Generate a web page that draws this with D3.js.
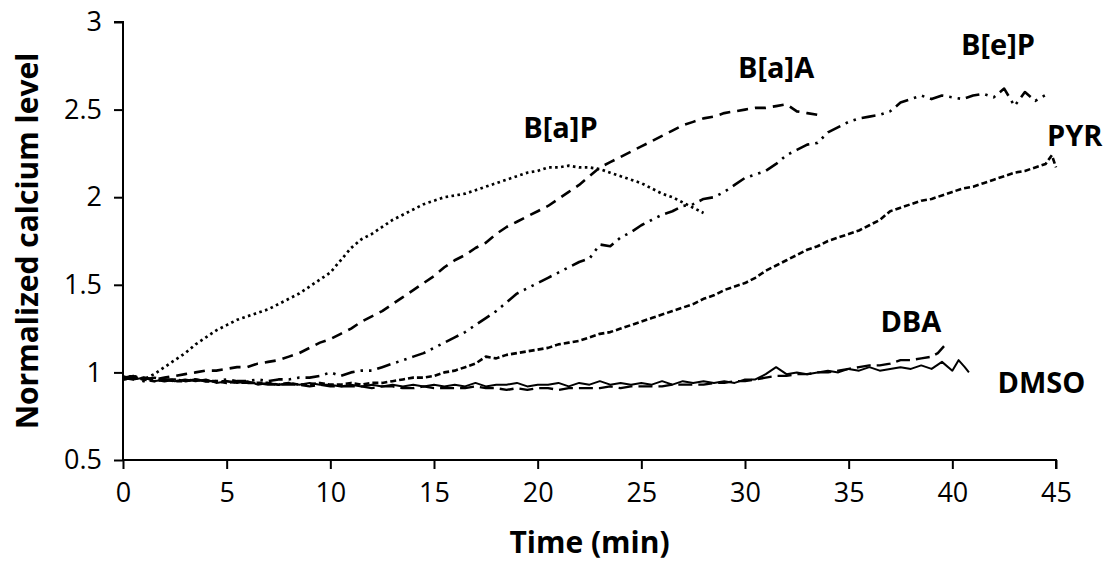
<!DOCTYPE html>
<html>
<head>
<meta charset="utf-8">
<script src="https://cdn.jsdelivr.net/npm/d3@7"></script>
<style>
  html, body { margin: 0; padding: 0; background: #ffffff; }
  svg { display: block; }
  text { font-family: "Open Sans", "DejaVu Sans", sans-serif; fill: #000; }
</style>
</head>
<body>
<svg id="chart" width="1110" height="565"></svg>
<script>
// ---------------- DATA ----------------
const xTicks = [0, 5, 10, 15, 20, 25, 30, 35, 40, 45];
const yTicks = [0.5, 1, 1.5, 2, 2.5, 3];
const xTitle = "Time (min)";
const yTitle = "Normalized calcium level";

const seriesNames = ["B[a]P", "B[a]A", "B[e]P", "PYR", "DBA", "DMSO"];

const baPTime = [0,0.5,1,1.5,2,2.5,3,3.5,4,4.5,5,5.5,6,6.5,7,7.5,8,8.5,9,9.5,10,10.5,11,11.5,12,12.5,13,13.5,14,14.5,15,15.5,16,16.5,17,17.5,18,18.5,19,19.5,20,20.5,21,21.5,22,22.5,23,23.5,24,24.5,25,25.5,26,26.5,27,27.5,28];
const baPValue = [0.97,0.98,0.96,0.99,1.03,1.07,1.11,1.16,1.20,1.24,1.27,1.30,1.32,1.34,1.36,1.39,1.42,1.45,1.49,1.53,1.57,1.64,1.71,1.76,1.79,1.83,1.87,1.90,1.93,1.96,1.98,2.00,2.01,2.02,2.04,2.06,2.08,2.10,2.12,2.14,2.15,2.17,2.17,2.18,2.17,2.17,2.16,2.14,2.12,2.10,2.08,2.05,2.02,2.00,1.97,1.94,1.91];

const baATime = [0,0.5,1,1.5,2,2.5,3,3.5,4,4.5,5,5.5,6,6.5,7,7.5,8,8.5,9,9.5,10,10.5,11,11.5,12,12.5,13,13.5,14,14.5,15,15.5,16,16.5,17,17.5,18,18.5,19,19.5,20,20.5,21,21.5,22,22.5,23,23.5,24,24.5,25,25.5,26,26.5,27,27.5,28,28.5,29,29.5,30,30.5,31,31.5,32,32.5,33,33.5,33.8];
const baAValue = [0.97,0.96,0.97,0.96,0.97,0.98,0.99,1.00,1.01,1.01,1.02,1.03,1.03,1.05,1.06,1.07,1.09,1.11,1.14,1.17,1.19,1.22,1.25,1.29,1.32,1.35,1.39,1.43,1.47,1.51,1.55,1.60,1.64,1.67,1.71,1.74,1.79,1.83,1.86,1.89,1.92,1.95,1.99,2.03,2.07,2.12,2.17,2.20,2.23,2.26,2.29,2.32,2.35,2.38,2.41,2.43,2.45,2.46,2.48,2.49,2.50,2.51,2.51,2.52,2.53,2.49,2.48,2.47,2.46];

const bePTime = [0,0.5,1,1.5,2,2.5,3,3.5,4,4.5,5,5.5,6,6.5,7,7.5,8,8.5,9,9.5,10,10.5,11,11.5,12,12.5,13,13.5,14,14.5,15,15.5,16,16.5,17,17.5,18,18.5,19,19.5,20,20.5,21,21.5,22,22.5,23,23.5,24,24.5,25,25.5,26,26.5,27,27.5,28,28.5,29,29.5,30,30.5,31,31.5,32,32.5,33,33.5,34,34.5,35,35.5,36,36.5,37,37.5,38,38.5,39,39.5,40,40.5,41,41.5,42,42.5,43,43.5,44,44.6];
const bePValue = [0.96,0.97,0.95,0.96,0.95,0.96,0.95,0.96,0.95,0.95,0.96,0.95,0.95,0.96,0.95,0.96,0.96,0.97,0.97,0.98,1.00,0.98,1.00,1.01,1.01,1.03,1.05,1.07,1.09,1.11,1.14,1.17,1.20,1.23,1.27,1.31,1.35,1.40,1.45,1.48,1.51,1.54,1.57,1.60,1.63,1.65,1.73,1.72,1.77,1.80,1.84,1.87,1.90,1.92,1.95,1.96,1.99,2.00,2.03,2.07,2.11,2.13,2.15,2.19,2.24,2.27,2.30,2.31,2.37,2.40,2.43,2.45,2.46,2.47,2.49,2.54,2.56,2.58,2.56,2.58,2.57,2.56,2.58,2.59,2.57,2.62,2.52,2.60,2.55,2.59];

const pyrTime = [0,0.5,1,1.5,2,2.5,3,3.5,4,4.5,5,5.5,6,6.5,7,7.5,8,8.5,9,9.5,10,10.5,11,11.5,12,12.5,13,13.5,14,14.5,15,15.5,16,16.5,17,17.5,18,18.5,19,19.5,20,20.5,21,21.5,22,22.5,23,23.5,24,24.5,25,25.5,26,26.5,27,27.5,28,28.5,29,29.5,30,30.5,31,31.5,32,32.5,33,33.5,34,34.5,35,35.5,36,36.5,37,37.5,38,38.5,39,39.5,40,40.5,41,41.5,42,42.5,43,43.5,44,44.5,44.8,45];
const pyrValue = [0.96,0.97,0.96,0.95,0.96,0.95,0.95,0.96,0.95,0.95,0.94,0.95,0.94,0.94,0.94,0.93,0.94,0.93,0.93,0.94,0.93,0.93,0.94,0.93,0.94,0.94,0.95,0.96,0.97,0.97,0.98,1.00,1.01,1.03,1.05,1.09,1.08,1.10,1.11,1.12,1.13,1.14,1.16,1.17,1.18,1.20,1.22,1.23,1.25,1.27,1.29,1.31,1.33,1.35,1.37,1.39,1.42,1.44,1.47,1.49,1.51,1.54,1.58,1.61,1.64,1.67,1.70,1.72,1.75,1.77,1.79,1.81,1.84,1.87,1.92,1.94,1.96,1.98,1.99,2.01,2.03,2.05,2.06,2.08,2.10,2.12,2.14,2.15,2.17,2.19,2.24,2.17];

const dbaTime = [0,0.5,1,1.5,2,2.5,3,3.5,4,4.5,5,5.5,6,6.5,7,7.5,8,8.5,9,9.5,10,10.5,11,11.5,12,12.5,13,13.5,14,14.5,15,15.5,16,16.5,17,17.5,18,18.5,19,19.5,20,20.5,21,21.5,22,22.5,23,23.5,24,24.5,25,25.5,26,26.5,27,27.5,28,28.5,29,29.5,30,30.5,31,31.5,32,32.5,33,33.5,34,34.5,35,35.5,36,36.5,37,37.5,38,38.5,39,39.3,39.6];
const dbaValue = [0.97,0.98,0.96,0.97,0.96,0.96,0.95,0.96,0.95,0.95,0.95,0.94,0.94,0.94,0.93,0.93,0.93,0.93,0.92,0.93,0.92,0.92,0.92,0.92,0.91,0.92,0.92,0.91,0.91,0.92,0.91,0.91,0.91,0.91,0.92,0.91,0.91,0.90,0.91,0.90,0.91,0.91,0.90,0.91,0.91,0.91,0.91,0.92,0.91,0.92,0.92,0.92,0.92,0.93,0.93,0.93,0.93,0.94,0.94,0.95,0.95,0.96,0.97,0.98,0.98,0.99,0.99,1.00,1.00,1.01,1.02,1.03,1.04,1.04,1.05,1.07,1.07,1.08,1.09,1.11,1.15];

const dmsoTime = [0,0.5,1,1.5,2,2.5,3,3.5,4,4.5,5,5.5,6,6.5,7,7.5,8,8.5,9,9.5,10,10.5,11,11.5,12,12.5,13,13.5,14,14.5,15,15.5,16,16.5,17,17.5,18,18.5,19,19.5,20,20.5,21,21.5,22,22.5,23,23.5,24,24.5,25,25.5,26,26.5,27,27.5,28,28.5,29,29.5,30,30.5,31,31.5,32,32.5,33,33.5,34,34.5,35,35.5,36,36.5,37,37.5,38,38.5,39,39.5,40,40.3,40.6,40.8];
const dmsoValue = [0.98,0.96,0.97,0.95,0.96,0.95,0.96,0.95,0.96,0.94,0.95,0.94,0.95,0.93,0.94,0.93,0.94,0.93,0.94,0.93,0.93,0.92,0.93,0.92,0.93,0.92,0.93,0.92,0.93,0.92,0.93,0.92,0.93,0.92,0.94,0.92,0.93,0.93,0.94,0.92,0.93,0.93,0.94,0.92,0.94,0.93,0.95,0.93,0.94,0.93,0.94,0.93,0.95,0.93,0.95,0.94,0.95,0.94,0.95,0.94,0.96,0.96,0.99,1.03,0.99,1.00,0.99,1.00,1.01,1.00,1.02,1.01,1.03,1.01,1.02,1.03,1.02,1.04,1.02,1.06,1.01,1.07,1.03,1.00];

// label anchor points in data units (time, level)
const labelTime  = [21.1, 31.5, 42.2, 45.9, 38.0, 44.3];
const labelLevel = [2.34, 2.68, 2.81, 2.29, 1.23, 0.88];

// ---------------- LAYOUT ----------------
const svg = d3.select("#chart");
const margin = { left: 123, right: 54, top: 22, bottom: 105 };
const W = 1110, H = 565;

const x = d3.scaleLinear().domain([0, 45]).range([margin.left, W - margin.right]);
const y = d3.scaleLinear().domain([0.5, 3]).range([H - margin.bottom, margin.top]);

const styles = [
  { dash: "2.6,3.4", width: 2.7 },            // B[a]P dotted
  { dash: "11,7", width: 2.6 },               // B[a]A dashed
  { dash: "14,6,2.5,6,2.5,6", width: 2.6 },   // B[e]P long dash dot dot
  { dash: "6,3", width: 2.6 },                // PYR short dash
  { dash: "14,6", width: 2.4 },               // DBA long dash
  { dash: null, width: 2.0 }                  // DMSO solid
];

const allTimes = [baPTime, baATime, bePTime, pyrTime, dbaTime, dmsoTime];
const allValues = [baPValue, baAValue, bePValue, pyrValue, dbaValue, dmsoValue];

// ---------------- AXES ----------------
const fontTick = 27;

const yAxis = svg.append("g")
  .attr("transform", `translate(${margin.left},0)`)
  .call(d3.axisLeft(y).tickValues(yTicks).tickFormat(d => String(d)).tickSize(9).tickPadding(12));
yAxis.select(".domain").attr("stroke", "#000").attr("stroke-width", 2)
  .attr("d", `M-9,${y(3)}H0V${y(0.5)}`);
yAxis.selectAll(".tick line").attr("stroke", "#000").attr("stroke-width", 2);
yAxis.selectAll(".tick text").style("font-size", fontTick + "px").attr("font-family", null);

const xAxis = svg.append("g")
  .attr("transform", `translate(0,${y(0.5)})`)
  .call(d3.axisBottom(x).tickValues(xTicks).tickFormat(d => String(d)).tickSize(9).tickPadding(14));
xAxis.select(".domain").attr("stroke", "#000").attr("stroke-width", 2)
  .attr("d", `M${x(0)},0H${x(45)}V9`);
xAxis.selectAll(".tick line").attr("stroke", "#000").attr("stroke-width", 2);
xAxis.selectAll(".tick text").style("font-size", fontTick + "px").attr("font-family", null);

svg.selectAll(".tick text").style("font-family", '"Open Sans", sans-serif');

// axis titles
svg.append("text")
  .attr("x", (x(0) + x(45)) / 2)
  .attr("y", 553)
  .attr("text-anchor", "middle")
  .style("font-size", "30px").style("font-weight", "bold")
  .text(xTitle);

svg.append("text")
  .attr("transform", `translate(38,${(y(0.5) + y(3)) / 2}) rotate(-90)`)
  .attr("text-anchor", "middle")
  .style("font-size", "30px").style("font-weight", "bold")
  .text(yTitle);

// ---------------- LINES ----------------
const line = d3.line().x(d => x(d[0])).y(d => y(d[1])).curve(d3.curveLinear);

seriesNames.forEach((name, i) => {
  const pts = allTimes[i].map((t, k) => [t, allValues[i][k]]);
  svg.append("path")
    .datum(pts)
    .attr("fill", "none")
    .attr("stroke", "#000")
    .attr("stroke-width", styles[i].width)
    .attr("stroke-linejoin", "round")
    .attr("stroke-dasharray", styles[i].dash)
    .attr("d", line);
});

// ---------------- LABELS ----------------
seriesNames.forEach((name, i) => {
  svg.append("text")
    .attr("x", x(labelTime[i]))
    .attr("y", y(labelLevel[i]))
    .attr("text-anchor", "middle")
    .style("font-size", "29px").style("font-weight", "bold")
    .text(name);
});
</script>
</body>
</html>
